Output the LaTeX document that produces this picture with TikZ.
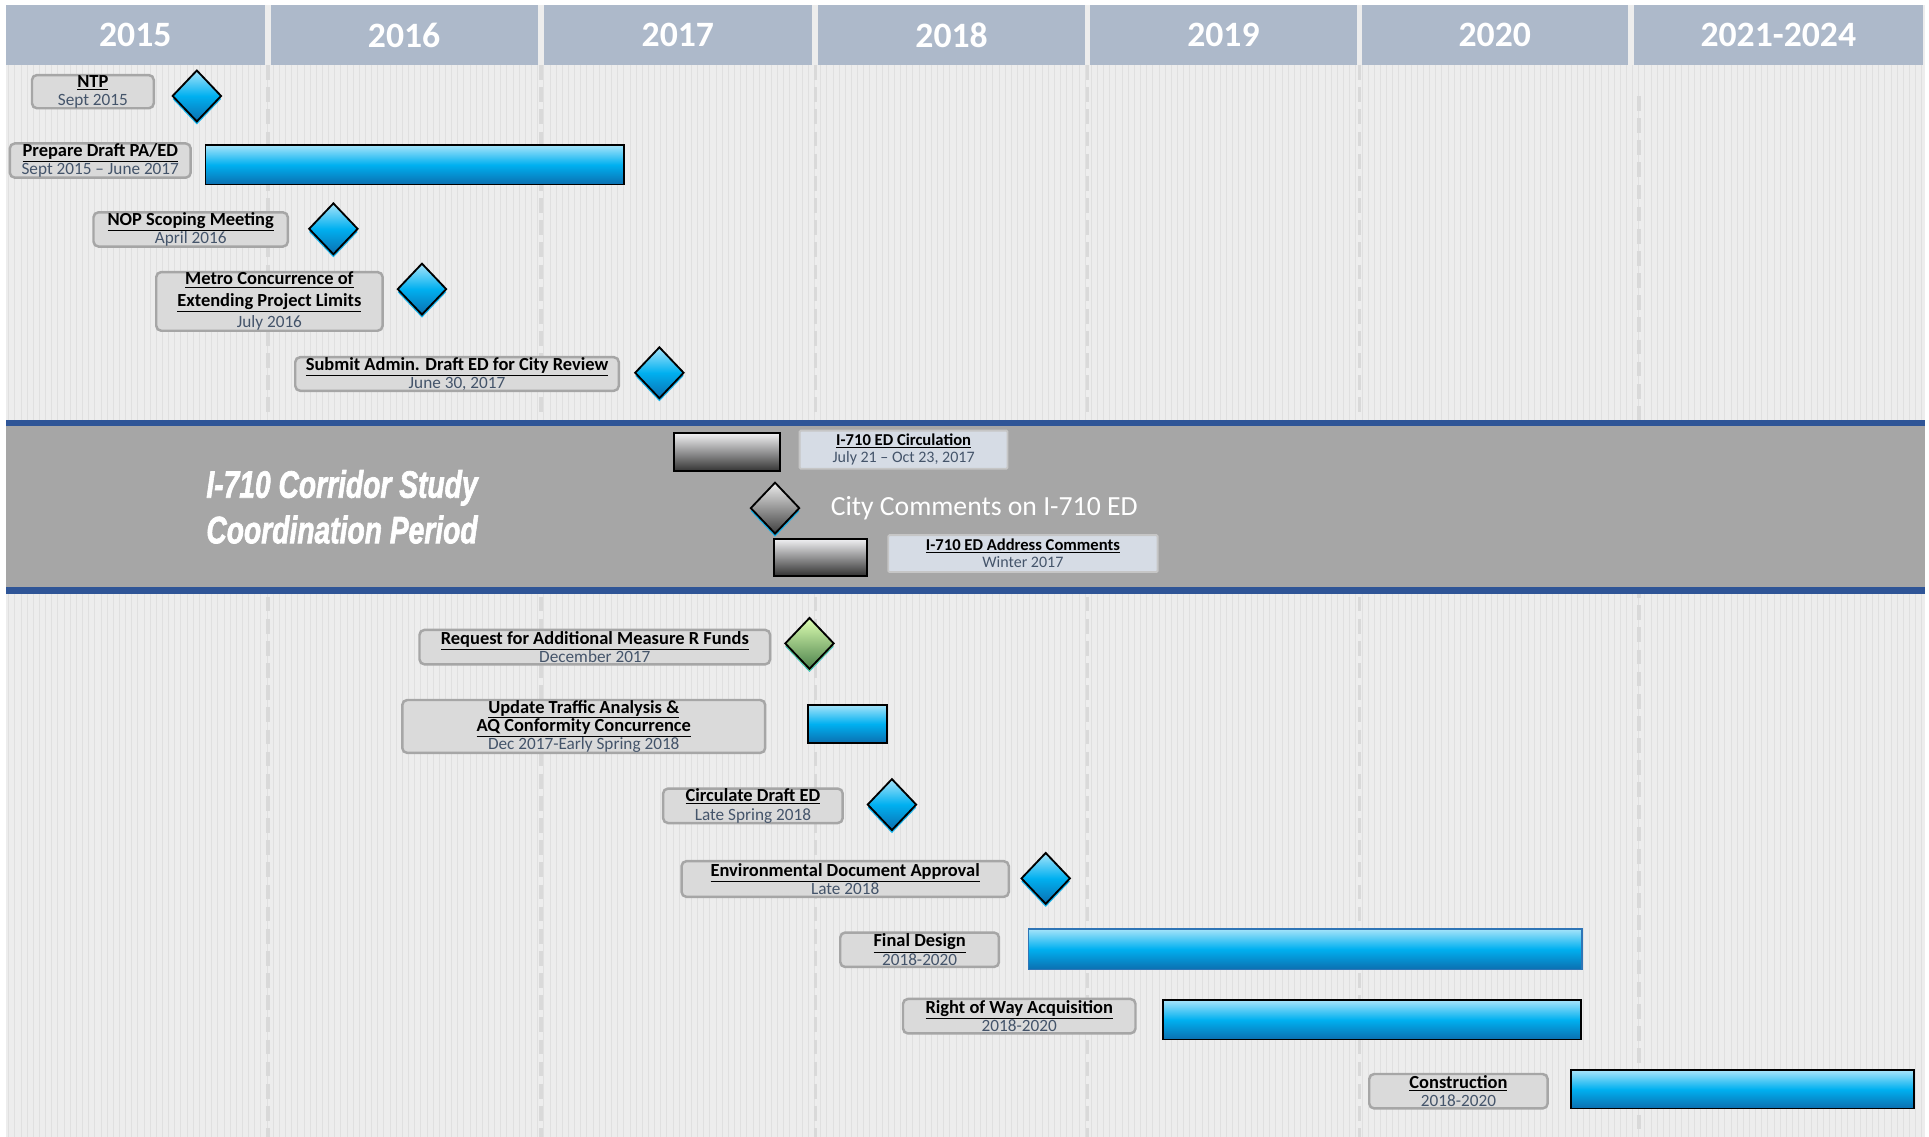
\documentclass[tikz,border=0pt]{standalone}
\usepackage{fontspec}
\setmainfont{Carlito}
\newfontfamily\bandfont[BoldItalicFeatures={FakeBold=2}]{Liberation Sans}
\usepackage{graphicx}
\usepackage{tikz}
\usetikzlibrary{shapes.geometric, shadows, positioning}

\definecolor{hdrblue}{HTML}{ADB9CA}
\definecolor{bgray}{HTML}{EDEDED}
\definecolor{stripegray}{HTML}{E0E0E0}
\definecolor{dashgray}{HTML}{D9D9D9}
\definecolor{bandgray}{HTML}{A6A6A6}
\definecolor{bandblue}{HTML}{2F5597}
\definecolor{dategray}{HTML}{44546A}
\definecolor{boxfill}{HTML}{DADADA}
\definecolor{boxline}{HTML}{A6A6A6}
\definecolor{bandbox}{HTML}{D6DCE5}
\definecolor{barlight}{HTML}{A6E4FA}
\definecolor{barmid}{HTML}{00B0F0}
\definecolor{bardark}{HTML}{0B6FB0}
\definecolor{fdline}{HTML}{2E75B6}

\newcommand{\tasktxt}[2]{\textbf{\underline{#1}}\\{\datefont\color{dategray}#2}}

\begin{document}
\begin{tikzpicture}[x=1pt, y=-1pt,
    yearcell/.style={fill=hdrblue, draw=none, inner sep=0, text=white,
        font=\fontsize{29}{30}\selectfont\bfseries},
    lbl/.style={draw=boxline, fill=boxfill, line width=2pt, rounded corners=4pt,
        inner sep=0, align=center,
        font={\fontsize{15}{15}\selectfont\def\datefont{\fontsize{14}{15}\selectfont}}},
    bandlbl/.style={lbl, draw=gray!45, fill=bandbox, line width=1.5pt, rounded corners=1pt,
        font={\fontsize{13.5}{14}\selectfont\def\datefont{\fontsize{13}{14}\selectfont}}},
    bar/.style={draw=black, line width=1.5pt, inner sep=0,
        top color=barlight, bottom color=bardark, middle color=barmid},
    darkbar/.style={bar, top color=blue!8!gray!10, middle color=blue!5!gray!55, bottom color=black!80},
    mile/.style={diamond, draw=black, line width=1.5pt, inner sep=0,
        minimum width=40pt, minimum height=42pt,
        top color=barlight, bottom color=bardark, middle color=barmid,
        drop shadow={shadow xshift=0pt, shadow yshift=-2.5pt, fill=barmid, opacity=0.9}},
    greymile/.style={mile, top color=gray!15, middle color=gray!55, bottom color=black!75,
        drop shadow={shadow xshift=0pt, shadow yshift=-1pt, fill=gray, opacity=0.4}},
    greenmile/.style={mile, top color=green!25!lime!30, middle color=green!40!olive!55, bottom color=green!30!black!70,
        drop shadow={shadow xshift=0pt, shadow yshift=-2pt, fill=green!50!olive!60, opacity=0.8}}
]

% canvas and striped background
\useasboundingbox (0,0) rectangle (1568,924);
\fill[white] (0,0) rectangle (1568,924);
\fill[bgray] (5,4) rectangle (1565,924);
\foreach \i in {7,12,...,1562}
    \draw[stripegray, line width=0.6pt] (\i,53) -- (\i,924);

% year columns
\node (y2015) [yearcell, minimum width=210pt, minimum height=49pt] at (110,28.5) {2015};
\node (y2016) [yearcell, minimum width=217pt, minimum height=49pt] at (328.5,28.5) {2016};
\node (y2017) [yearcell, minimum width=218pt, minimum height=49pt] at (551,28.5) {2017};
\node (y2018) [yearcell, minimum width=217pt, minimum height=49pt] at (773.5,28.5) {2018};
\node (y2019) [yearcell, minimum width=217pt, minimum height=49pt] at (994.5,28.5) {2019};
\node (y2020) [yearcell, minimum width=216pt, minimum height=49pt] at (1215,28.5) {2020};
\node (y2021) [yearcell, minimum width=235pt, minimum height=49pt] at (1445.5,28.5) {2021-2024};

% year dividers
\foreach \x in {218,440,663,884,1105}
    \draw[dashgray, line width=3pt, dash pattern=on 12pt off 6pt] (\x,53) -- (\x,924);
\draw[dashgray, line width=3pt, dash pattern=on 12pt off 6pt] (1332,78) -- (1332,924);

% coordination band
\fill[bandgray] (5,344) rectangle (1565,480);
\draw[bandblue, line width=5pt] (5,344) -- (1565,344);
\draw[bandblue, line width=5pt] (5,480) -- (1565,480);
\node (bandtitle) [text=white, align=center, font=\bandfont\fontsize{31}{37}\selectfont\bfseries\itshape] at (278,412)
    {\scalebox{0.74}[1]{I-710 Corridor Study}\\\scalebox{0.74}[1]{Coordination Period}};

% tasks before the band
\node (ntp) [lbl, minimum width=99pt, minimum height=25pt] at (75.5,74.5) {\tasktxt{NTP}{Sept 2015}};
\node (ntpm) [mile] at (160,78) {};
\node (prep) [lbl, minimum width=147pt, minimum height=25pt] at (81.5,130.5) {\tasktxt{Prepare Draft PA/ED}{Sept 2015 -- June 2017}};
\node (prepbar) [bar, minimum width=340pt, minimum height=32pt] at (337,134) {};
\node (nop) [lbl, minimum width=158pt, minimum height=23pt] at (155,186.5) {\tasktxt{NOP Scoping Meeting}{April 2016}};
\node (nopm) [mile] at (271,186) {};
\node (metro) [lbl, minimum width=184pt, minimum height=44pt, font={\fontsize{15}{17.5}\selectfont}] at (219,245)
    {\textbf{\underline{Metro Concurrence of}}\\\textbf{\underline{Extending Project Limits}}\\{\fontsize{14}{15}\selectfont\color{dategray}July 2016}};
\node (metrom) [mile] at (343,235) {};
\node (submit) [lbl, minimum width=263pt, minimum height=26pt] at (371.5,304) {\tasktxt{Submit Admin. Draft ED for City Review}{June 30, 2017}};
\node (submitm) [mile] at (536,303) {};

% tasks inside the band
\node (circbar) [darkbar, minimum width=86pt, minimum height=31pt] at (591,367.5) {};
\node (circ) [bandlbl, minimum width=169pt, minimum height=31pt] at (734.5,365.5) {\tasktxt{I-710 ED Circulation}{July 21 -- Oct 23, 2017}};
\node (citym) [greymile] at (630,413) {};
\node (citytxt) [right=21pt of citym, text=white, font=\fontsize{22.5}{26}\selectfont] {City Comments on I-710 ED};
\node (addrbar) [darkbar, minimum width=76pt, minimum height=30pt] at (667,453) {};
\node (addr) [bandlbl, minimum width=219pt, minimum height=30pt] at (831.5,450) {\tasktxt{I-710 ED Address Comments}{Winter 2017}};

% tasks after the band
\node (req) [lbl, minimum width=285pt, minimum height=28pt] at (483.5,526) {\tasktxt{Request for Additional Measure R Funds}{December 2017}};
\node (reqm) [greenmile] at (658,523) {};
\node (traffic) [lbl, minimum width=295pt, minimum height=43pt] at (474.5,590.5)
    {\textbf{\underline{Update Traffic Analysis \&}}\\\textbf{\underline{AQ Conformity Concurrence}}\\{\datefont\color{dategray}Dec 2017-Early Spring 2018}};
\node (trafficbar) [bar, minimum width=64pt, minimum height=31pt] at (689,588.5) {};
\node (circed) [lbl, minimum width=146pt, minimum height=28pt] at (612,655) {\tasktxt{Circulate Draft ED}{Late Spring 2018}};
\node (circedm) [mile] at (725,654) {};
\node (eda) [lbl, minimum width=266pt, minimum height=29pt] at (687,714.5) {\tasktxt{Environmental Document Approval}{Late 2018}};
\node (edam) [mile] at (850,714) {};
\node (fd) [lbl, minimum width=129pt, minimum height=28pt] at (747.5,772) {\tasktxt{Final Design}{2018-2020}};
\node (fdbar) [bar, draw=fdline, minimum width=450pt, minimum height=33pt] at (1061,771.5) {};
\node (row) [lbl, minimum width=189pt, minimum height=28pt] at (828.5,826) {\tasktxt{Right of Way Acquisition}{2018-2020}};
\node (rowbar) [bar, minimum width=340pt, minimum height=32pt] at (1115,829) {};
\node (cons) [lbl, minimum width=145pt, minimum height=28pt] at (1185.5,887) {\tasktxt{Construction}{2018-2020}};
\node (consbar) [bar, minimum width=279pt, minimum height=31pt] at (1416.5,885.5) {};

\end{tikzpicture}
\end{document}
